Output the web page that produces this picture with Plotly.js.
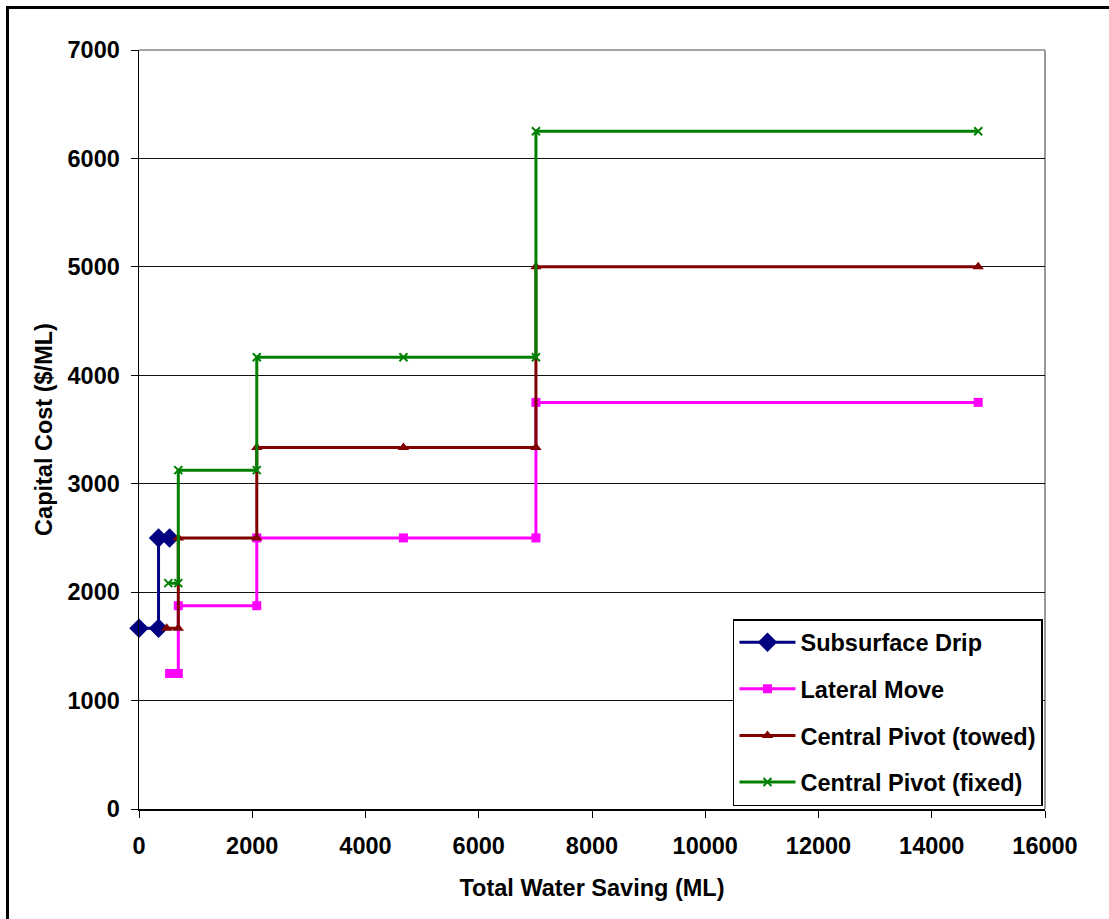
<!DOCTYPE html>
<html>
<head>
<meta charset="utf-8">
<script src="https://cdn.plot.ly/plotly-3.0.1.min.js"></script>
<style>
  html, body { margin: 0; padding: 0; background: #fff; overflow: hidden; }
  #chart { position: absolute; left: 0; top: 0; width: 1109px; height: 919px; }
  #edgeTop { position: absolute; left: 6px; top: 6px; width: 1103px; height: 3px; background: #000; }
  #edgeLeft { position: absolute; left: 6px; top: 6px; width: 3px; height: 913px; background: #000; }
</style>
</head>
<body>
<div id="chart"></div>
<div id="edgeTop"></div>
<div id="edgeLeft"></div>
<script>
// Series names
const seriesNames = ["Subsurface Drip", "Lateral Move", "Central Pivot (towed)", "Central Pivot (fixed)"];

// Subsurface Drip
const dripX = [0, 345, 345, 540];
const dripY = [1667, 1667, 2500, 2500];

// Lateral Move
const lateralX = [540, 694, 694, 2080, 2080, 4670, 7010, 7010, 14820];
const lateralY = [1250, 1250, 1875, 1875, 2500, 2500, 2500, 3750, 3750];

// Central Pivot (towed)
const towedX = [489, 694, 694, 2080, 2080, 4670, 7010, 7010, 14820];
const towedY = [1667, 1667, 2500, 2500, 3333, 3333, 3333, 5000, 5000];

// Central Pivot (fixed)
const fixedX = [518, 694, 694, 2080, 2080, 4670, 7010, 7010, 14820];
const fixedY = [2083, 2083, 3125, 3125, 4167, 4167, 4167, 6250, 6250];

// Axis ticks
const xTicks = [0, 2000, 4000, 6000, 8000, 10000, 12000, 14000, 16000];
const yTicks = [0, 1000, 2000, 3000, 4000, 5000, 6000, 7000];

const FONT = "Liberation Sans, Arial, sans-serif";
const FS = 23.5;

function tr(x, y, name, color, symbol, msize, group) {
  return {
    type: "scatter", mode: "lines+markers", x: x, y: y, name: name,
    legendgroup: group,
    line: { color: color, width: 3 },
    marker: { color: color, symbol: symbol, size: msize,
              line: { color: color, width: symbol === "x-thin" ? 2 : 0 } },
    cliponaxis: false
  };
}

const data = [
  tr(dripX, dripY, seriesNames[0], "#000080", "diamond", 15, "a"),
  tr(lateralX, lateralY, seriesNames[1], "#FF00FF", "square", 9, "b"),
  tr(towedX, towedY, seriesNames[2], "#800000", "triangle-up", 10, "c"),
  tr(fixedX, fixedY, seriesNames[3], "#008000", "x-thin", 8, "d")
];

const bold = { family: FONT, size: FS, color: "#000", weight: "bold" };

const W = 1109, H = 919, ML = 139, MR = 64, MT = 50, MB = 110;

const layout = {
  width: W, height: H,
  margin: { l: ML, r: MR, t: MT, b: MB, pad: 0 },
  paper_bgcolor: "#fff", plot_bgcolor: "#fff",
  font: bold,
  showlegend: true,
  legend: {
    x: 0.6556, y: 0.2503, xanchor: "left", yanchor: "top",
    bgcolor: "#fff", bordercolor: "#000", borderwidth: 1.5,
    font: bold,
    traceorder: "grouped", tracegroupgap: 13,
    itemwidth: 56
  },
  xaxis: {
    range: [0, 16000], tickvals: xTicks, ticktext: xTicks.map(String),
    showgrid: false, zeroline: false,
    showline: true, linecolor: "#000", linewidth: 1.5,
    ticks: "outside", ticklen: 7, tickcolor: "#000", tickwidth: 1,
    ticklabelstandoff: 8,
    tickfont: bold,
    title: { text: "Total Water Saving (ML)", standoff: 22, font: bold },
    automargin: false
  },
  yaxis: {
    range: [0, 7000], tickvals: yTicks, ticktext: yTicks.map(String),
    showgrid: true, gridcolor: "#111", gridwidth: 1,
    zeroline: false,
    showline: true, linecolor: "#000", linewidth: 1.5,
    ticks: "outside", ticklen: 7, tickcolor: "#000", tickwidth: 1,
    ticklabelstandoff: 6,
    tickfont: bold,
    title: { text: "Capital Cost ($/ML)", standoff: 8, font: bold },
    automargin: false
  },
  shapes: [
    { type: "line", xref: "paper", yref: "paper", x0: 1, x1: 1, y0: 0, y1: 1,
      line: { color: "#999", width: 2 }, layer: "below" },
    { type: "line", xref: "paper", yref: "paper", x0: 0, x1: 1, y0: 1, y1: 1,
      line: { color: "#888", width: 1.5 }, layer: "below" }
  ]
};

Plotly.newPlot("chart", data, layout, { displayModeBar: false, staticPlot: true });
</script>
</body>
</html>
